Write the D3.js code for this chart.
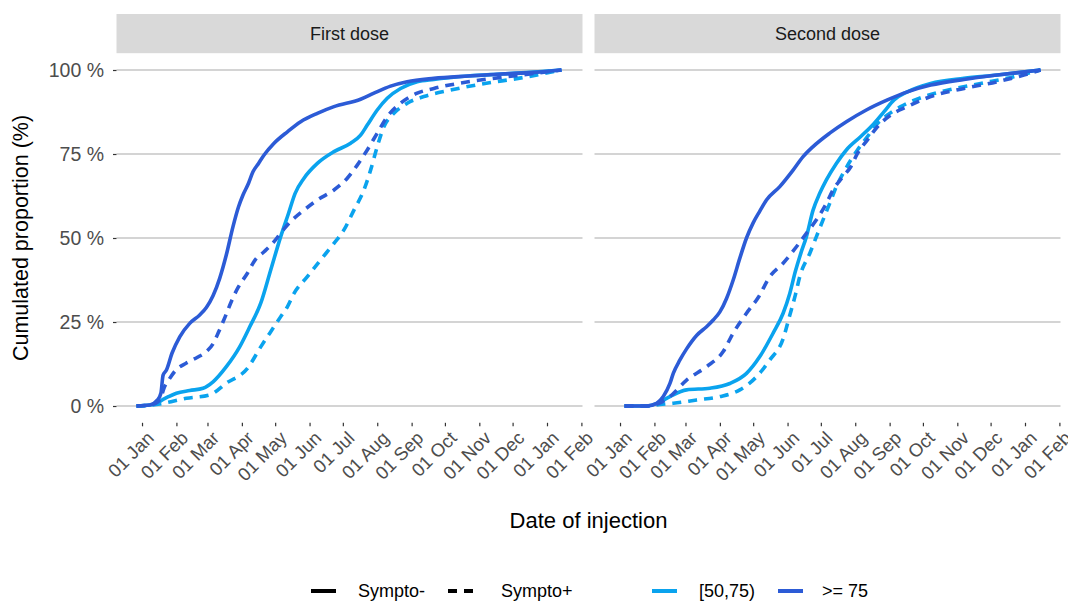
<!DOCTYPE html>
<html>
<head>
<meta charset="utf-8">
<script src="https://cdn.jsdelivr.net/npm/d3@7"></script>
<style>
body { margin: 0; background: #fff; }
svg { font-family: "Liberation Sans", Arial, sans-serif; }
</style>
</head>
<body>
<div id="chart"></div>
<script>
// cumulated proportion of injections
// each point is [days since 01 Jan 2021, cumulated %]
var panels = ["First dose", "Second dose"];
var ageGroups = ["[50,75)", ">= 75"];
var symptoms = ["Sympto-", "Sympto+"];
var yTicks = [0, 25, 50, 75, 100];
var monthTicks = ["2021-01-01","2021-02-01","2021-03-01","2021-04-01","2021-05-01","2021-06-01",
  "2021-07-01","2021-08-01","2021-09-01","2021-10-01","2021-11-01","2021-12-01","2022-01-01","2022-02-01"];
var xDomain = ["2020-12-09", "2022-02-02"];

var first_5075_neg = [[-5,0],[7,0.3],[14,0.8],[16,1.3],[24,2.8],[31,3.8],[43,4.6],[55,5.3],[64,7.2],[76,11.7],
  [88,17.6],[97,23.5],[107,30.6],[116,40.5],[125,50.4],[132,57.3],[138,63.3],[146,67.8],[158,72.2],[173,75.7],
  [188,78.2],[197,80.6],[203,83.6],[212,88.1],[221,91.6],[233,94.5],[248,96.5],[263,97.2],[294,98.2],[324,98.8],
  [354,99.4],[378,100]];
var first_5075_pos = [[-5,0],[7,0.2],[19,0.8],[40,2.3],[61,3.3],[76,6.8],[95,11.2],[107,17.6],[119,23.6],[125,26.6],
  [131,29.5],[137,33.5],[149,38.5],[161,43.5],[173,48.4],[182,52.4],[191,58.3],[200,64.3],[206,70.2],[212,77.2],
  [218,83.1],[227,87.1],[239,90.1],[254,92.1],[278,94],[309,96],[339,97.5],[378,100]];
var first_75_neg = [[-5,0],[7,0.3],[14,1.8],[17,3.8],[19,9.2],[22,10.7],[27,15.7],[34,20.6],[43,24.6],[52,27.1],
  [58,29.3],[64,32.8],[70,38],[76,45],[82,53.4],[87,59.3],[91,62.8],[96,66.3],[100,69.7],[105,72.2],
  [110,74.7],[119,78.2],[131,81.6],[143,84.6],[158,87.1],[173,89.1],[197,91.3],[209,93.1],[224,95.2],[239,96.5],
  [263,97.5],[294,98.2],[324,98.8],[354,99.3],[378,100]];
var first_75_pos = [[-5,0],[7,0.3],[14,1.2],[17,2.5],[20,5.5],[24,7.7],[30,10.5],[40,12.8],[50,14.5],[58,16.2],
  [64,18.5],[69,22],[75,26.6],[81,31.5],[87,35.5],[95,39.5],[102,43.5],[110,45.9],[119,48.9],[126,51.9],[134,54.9],
  [146,58.3],[158,61.3],[173,64.3],[185,67.8],[194,71.7],[203,76.2],[212,81.2],[221,86.1],[233,90.1],[248,93.1],
  [263,94.5],[294,96.5],[324,97.8],[354,99],[378,100]];

var second_5075_neg = [[4,0],[24,0],[35,1],[45,2.8],[60,4.8],[81,5.3],[99,6.7],[114,9.7],[126,14.7],[138,21.7],
  [147,27.6],[153,33.5],[158,40],[163,45.5],[168,50.4],[174,58.3],[180,63.3],[186,67.3],[195,72.2],[204,76.2],
  [217,80.2],[229,84.1],[238,87.6],[247,91.1],[259,93.5],[280,96],[310,97.5],[340,98.5],[379,100]];
var second_5075_pos = [[4,0],[24,0],[38,0.5],[48,0.8],[69,1.8],[90,2.8],[108,4.8],[123,8.7],[135,13.7],[147,20],
  [153,27],[158,33],[162,38.5],[171,45.4],[177,50.4],[183,55.4],[189,60.3],[195,65.3],[201,69.2],[208,73.2],
  [214,76.2],[223,80.2],[232,84.1],[241,86.6],[253,89.1],[274,92.1],[295,94],[325,96],[355,98],[379,100]];
var second_75_neg = [[4,0],[24,0],[33,0.8],[39,2.8],[45,6.7],[48,9.7],[54,13.7],[60,17],[69,21],
  [78,23.6],[84,25.6],[90,28],[96,32],[102,37.5],[108,44],[114,50],[120,54.5],[126,58],[132,61.3],
  [144,65.3],[156,70.2],[165,74.2],[174,77.2],[189,81.2],[204,84.6],[222,88.1],[241,91.1],[259,93.5],[280,95.5],
  [310,97.2],[340,98.5],[379,100]];
var second_75_pos = [[4,0],[24,0],[35,0.8],[45,2.8],[60,7.7],[78,11.7],[93,16.2],[102,21.7],[114,27.6],[125,32.5],
  [135,38.5],[147,42.5],[159,47.4],[168,51.4],[177,55.4],[186,60.3],[192,64.3],[201,68.3],[208,71.2],[214,75.2],
  [223,79.2],[232,83.1],[244,86.6],[259,89.1],[280,92.1],[310,94.5],[340,96.5],[364,98.5],[379,100]];

var series = [
  {panel: 0, age: 0, sympto: 0, values: first_5075_neg},
  {panel: 0, age: 0, sympto: 1, values: first_5075_pos},
  {panel: 0, age: 1, sympto: 0, values: first_75_neg},
  {panel: 0, age: 1, sympto: 1, values: first_75_pos},
  {panel: 1, age: 0, sympto: 0, values: second_5075_neg},
  {panel: 1, age: 0, sympto: 1, values: second_5075_pos},
  {panel: 1, age: 1, sympto: 0, values: second_75_neg},
  {panel: 1, age: 1, sympto: 1, values: second_75_pos}
];

var width = 1068,
    height = 604;
var panelLeft = [116.5, 594.5],
    panelW = 466,
    panelTop = 53.2,
    panelBottom = 422.8,
    stripTop = 14;

var ageColor = ["#0aa3ee", "#2c5bd6"];
var dash = ["none", "9,7"];

var parseDay = d3.utcParse("%Y-%m-%d");
var origin = Date.UTC(2021, 0, 1);
function toDate(day) { return new Date(origin + day * 864e5); }

var x = d3.scaleUtc()
    .domain(xDomain.map(parseDay))
    .range([0, panelW]);

var y = d3.scaleLinear()
    .domain([-5, 105])
    .range([panelBottom, panelTop]);

var line = d3.line()
    .x(function(d) { return x(toDate(d[0])); })
    .y(function(d) { return y(d[1]); })
    .curve(d3.curveMonotoneX);

var svg = d3.select("#chart").append("svg")
    .attr("width", width)
    .attr("height", height);

svg.append("rect")
    .attr("width", width)
    .attr("height", height)
    .attr("fill", "#fff");

panels.forEach(function(name, p) {
    var g = svg.append("g")
        .attr("transform", "translate(" + panelLeft[p] + ",0)");

    // strip
    g.append("rect")
        .attr("x", 0)
        .attr("y", stripTop)
        .attr("width", panelW)
        .attr("height", panelTop - stripTop)
        .attr("fill", "#d9d9d9");
    g.append("text")
        .attr("x", panelW / 2)
        .attr("y", (stripTop + panelTop) / 2)
        .attr("dy", "0.36em")
        .attr("text-anchor", "middle")
        .attr("font-size", 18)
        .attr("fill", "#1a1a1a")
        .text(name);

    // horizontal grid
    g.selectAll(".grid")
        .data(yTicks)
        .enter().append("line")
        .attr("x1", 0)
        .attr("x2", panelW)
        .attr("y1", function(d) { return y(d); })
        .attr("y2", function(d) { return y(d); })
        .attr("stroke", "#c6c6c6")
        .attr("stroke-width", 1.6);

    // x axis
    var xg = g.append("g")
        .attr("transform", "translate(0," + panelBottom + ")")
        .call(d3.axisBottom(x)
            .tickValues(monthTicks.map(parseDay))
            .tickFormat(d3.utcFormat("%d %b"))
            .tickSize(3.5));
    xg.select(".domain").remove();
    xg.selectAll(".tick line").attr("stroke", "#333").attr("stroke-width", 1.2);
    xg.selectAll(".tick text")
        .attr("x", 0)
        .attr("y", 0)
        .attr("dy", "0.72em")
        .attr("text-anchor", "end")
        .attr("transform", "translate(3,7) rotate(-45)")
        .attr("font-size", 18.5)
        .attr("font-family", "Liberation Sans, Arial, sans-serif")
        .attr("fill", "#4d4d4d");

    // y axis on first panel only
    if (p === 0) {
        var yg = g.append("g")
            .call(d3.axisLeft(y)
                .tickValues(yTicks)
                .tickFormat(function(d) { return d + " %"; })
                .tickSize(3.5)
                .tickPadding(9));
        yg.select(".domain").remove();
        yg.selectAll(".tick line").attr("stroke", "#333").attr("stroke-width", 1.2);
        yg.selectAll(".tick text")
            .attr("font-size", 19.5)
            .attr("font-family", "Liberation Sans, Arial, sans-serif")
            .attr("fill", "#4d4d4d");
    }

    g.selectAll(".curve")
        .data(series.filter(function(s) { return s.panel === p; }))
        .enter().append("path")
        .attr("class", "curve")
        .attr("d", function(s) { return line(s.values); })
        .attr("fill", "none")
        .attr("stroke", function(s) { return ageColor[s.age]; })
        .attr("stroke-width", 3.6)
        .attr("stroke-dasharray", function(s) { return dash[s.sympto]; });
});

// axis titles
svg.append("text")
    .attr("x", (panelLeft[0] + panelLeft[1] + panelW) / 2)
    .attr("y", 528)
    .attr("text-anchor", "middle")
    .attr("font-size", 22)
    .attr("fill", "#000")
    .text("Date of injection");

svg.append("text")
    .attr("transform", "translate(28," + y(50) + ") rotate(-90)")
    .attr("text-anchor", "middle")
    .attr("font-size", 21.5)
    .attr("fill", "#000")
    .text("Cumulated proportion (%)");

// legend
var legendY = 591;
function legend(x0, textX, label, color, dasharray) {
    svg.append("line")
        .attr("x1", x0)
        .attr("x2", x0 + 25)
        .attr("y1", legendY)
        .attr("y2", legendY)
        .attr("stroke", color)
        .attr("stroke-width", 4)
        .attr("stroke-dasharray", dasharray);
    svg.append("text")
        .attr("x", textX)
        .attr("y", legendY)
        .attr("dy", "0.36em")
        .attr("font-size", 18)
        .attr("fill", "#000")
        .text(label);
}
legend(311, 358, symptoms[0], "#000", dash[0]);
legend(448, 501, symptoms[1], "#000", dash[1]);
legend(652, 699, ageGroups[0], ageColor[0], dash[0]);
legend(778, 822, ageGroups[1], ageColor[1], dash[0]);
</script>
</body>
</html>
